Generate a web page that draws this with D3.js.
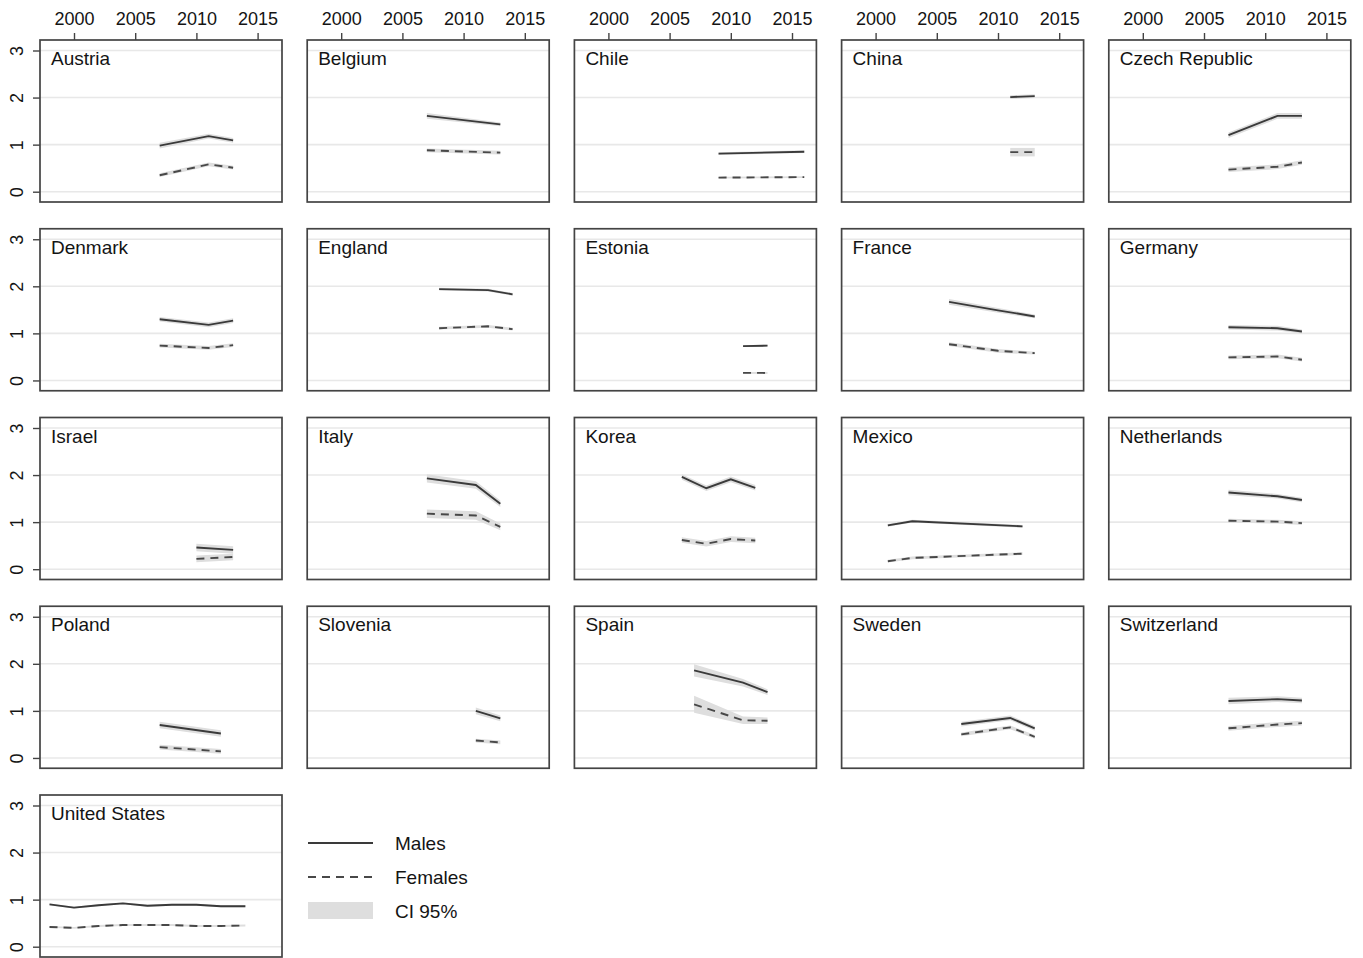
<!DOCTYPE html>
<html>
<head>
<meta charset="utf-8">
<script src="https://cdn.jsdelivr.net/npm/d3@7"></script>
<style>
  body { margin: 0; background: #fff; }
  svg { display: block; }
  text { font-family: "Liberation Sans", Arial, sans-serif; fill: #141414; }
</style>
</head>
<body>
<svg id="chart" width="1363" height="958"></svg>
<script>
// Countries, one small multiple each
const countries = ["Austria", "Belgium", "Chile", "China", "Czech Republic",
  "Denmark", "England", "Estonia", "France", "Germany",
  "Israel", "Italy", "Korea", "Mexico", "Netherlands",
  "Poland", "Slovenia", "Spain", "Sweden", "Switzerland",
  "United States"];

// Survey years per country
const years = [
  [2007, 2011, 2013], [2007, 2013], [2009, 2016], [2011, 2013], [2007, 2011, 2013],
  [2007, 2011, 2013], [2008, 2012, 2014], [2011, 2013], [2006, 2010, 2013], [2007, 2011, 2013],
  [2010, 2013], [2007, 2011, 2013], [2006, 2008, 2010, 2012], [2001, 2003, 2012], [2007, 2011, 2013],
  [2007, 2012], [2011, 2013], [2007, 2011, 2013], [2007, 2011, 2013], [2007, 2011, 2013],
  [1998, 2000, 2002, 2004, 2006, 2008, 2010, 2012, 2014]
];

// Estimates, males
const males = [
  [0.98, 1.18, 1.09], [1.61, 1.43], [0.81, 0.85], [2.01, 2.03], [1.20, 1.61, 1.61],
  [1.30, 1.18, 1.27], [1.94, 1.92, 1.83], [0.73, 0.74], [1.67, 1.49, 1.36], [1.13, 1.11, 1.04],
  [0.46, 0.41], [1.93, 1.79, 1.39], [1.96, 1.72, 1.91, 1.73], [0.93, 1.02, 0.91], [1.63, 1.55, 1.47],
  [0.70, 0.52], [1.00, 0.84], [1.86, 1.60, 1.40], [0.72, 0.85, 0.63], [1.21, 1.25, 1.22],
  [0.90, 0.83, 0.88, 0.92, 0.87, 0.89, 0.89, 0.86, 0.86]
];

// Estimates, females
const females = [
  [0.35, 0.58, 0.51], [0.88, 0.83], [0.30, 0.31], [0.84, 0.84], [0.47, 0.53, 0.62],
  [0.74, 0.69, 0.75], [1.11, 1.15, 1.09], [0.16, 0.16], [0.77, 0.63, 0.58], [0.49, 0.51, 0.44],
  [0.22, 0.26], [1.18, 1.14, 0.90], [0.62, 0.54, 0.64, 0.61], [0.17, 0.24, 0.33], [1.03, 1.01, 0.98],
  [0.23, 0.14], [0.37, 0.33], [1.14, 0.80, 0.79], [0.50, 0.65, 0.45], [0.63, 0.71, 0.74],
  [0.42, 0.40, 0.44, 0.46, 0.46, 0.46, 0.44, 0.44, 0.45]
];

// Half-width of the 95% confidence interval, males
const malesCI = [
  [0.06, 0.05, 0.05], [0.06, 0.04], [0.03, 0.03], [0.04, 0.04], [0.06, 0.06, 0.06],
  [0.05, 0.05, 0.05], [0.03, 0.03, 0.03], [0.02, 0.02], [0.06, 0.05, 0.04], [0.05, 0.05, 0.04],
  [0.08, 0.08], [0.09, 0.08, 0.07], [0.06, 0.06, 0.06, 0.06], [0.03, 0.03, 0.03], [0.06, 0.05, 0.05],
  [0.07, 0.07], [0.07, 0.06], [0.13, 0.08, 0.06], [0.05, 0.05, 0.05], [0.07, 0.06, 0.06],
  [0.02, 0.02, 0.02, 0.02, 0.02, 0.02, 0.02, 0.02, 0.02]
];

// Half-width of the 95% confidence interval, females
const femalesCI = [
  [0.04, 0.04, 0.04], [0.04, 0.04], [0.02, 0.02], [0.09, 0.09], [0.05, 0.05, 0.05],
  [0.04, 0.04, 0.04], [0.03, 0.03, 0.03], [0.02, 0.02], [0.04, 0.04, 0.03], [0.04, 0.04, 0.04],
  [0.07, 0.07], [0.09, 0.09, 0.07], [0.06, 0.06, 0.06, 0.06], [0.03, 0.03, 0.03], [0.04, 0.04, 0.04],
  [0.05, 0.05], [0.04, 0.04], [0.18, 0.08, 0.07], [0.04, 0.04, 0.04], [0.05, 0.05, 0.05],
  [0.02, 0.02, 0.02, 0.02, 0.02, 0.02, 0.02, 0.02, 0.02]
];

const xTicks = [2000, 2005, 2010, 2015];
const yTicks = [0, 1, 2, 3];
const legendLabels = ["Males", "Females", "CI 95%"];

// Layout of the grid of panels
const nCols = 5;
const panelW = 242, panelH = 162;
const left0 = 40, top0 = 40;
const colStep = 267.2, rowStep = 188.75;

const x = d3.scaleLinear().domain([2000, 2015]).range([34, 217.6]);
const y = d3.scaleLinear().domain([0, 3]).range([151.7, 10.5]);

const gridColor = "#e8e8e8";
const frameColor = "#444";
const lineColor = "#3a3a3a";
const bandColor = "#dedede";

const svg = d3.select("#chart");

const band = d3.area()
  .x(d => x(d.year))
  .y0(d => y(d.v - d.ci))
  .y1(d => y(d.v + d.ci));
const line = d3.line()
  .x(d => x(d.year))
  .y(d => y(d.v));

countries.forEach((name, i) => {
  const col = i % nCols, row = Math.floor(i / nCols);
  const g = svg.append("g")
    .attr("transform", `translate(${left0 + col * colStep},${top0 + row * rowStep})`);

  // horizontal reference lines
  g.selectAll("line.grid").data(yTicks).join("line")
    .attr("class", "grid")
    .attr("x1", 0).attr("x2", panelW)
    .attr("y1", d => y(d)).attr("y2", d => y(d))
    .attr("stroke", gridColor).attr("stroke-width", 1.6);

  const m = years[i].map((yr, k) => ({ year: yr, v: males[i][k], ci: malesCI[i][k] }));
  const f = years[i].map((yr, k) => ({ year: yr, v: females[i][k], ci: femalesCI[i][k] }));

  // confidence bands
  [m, f].forEach(s => {
    g.append("path").datum(s).attr("d", band)
      .attr("fill", bandColor).attr("stroke", "none");
  });

  // estimates
  g.append("path").datum(m).attr("d", line)
    .attr("fill", "none").attr("stroke", lineColor).attr("stroke-width", 1.9);
  g.append("path").datum(f).attr("d", line)
    .attr("fill", "none").attr("stroke", "#484848").attr("stroke-width", 1.9)
    .attr("stroke-dasharray", "8,6");

  // panel frame
  g.append("rect")
    .attr("x", 0).attr("y", 0).attr("width", panelW).attr("height", panelH)
    .attr("fill", "none").attr("stroke", frameColor).attr("stroke-width", 1.7);

  // panel title
  g.append("text")
    .attr("x", 11).attr("y", 25)
    .attr("font-size", 19)
    .text(name);

  // year axis along the top row
  if (row === 0) {
    const ax = g.append("g").call(
      d3.axisTop(x).tickValues(xTicks).tickSize(7).tickPadding(8).tickFormat(d3.format("d"))
    );
    ax.select(".domain").remove();
    ax.selectAll(".tick line").attr("stroke", frameColor).attr("stroke-width", 1.4);
    ax.selectAll(".tick text")
      .attr("font-size", 18).attr("font-family", "Liberation Sans, Arial, sans-serif")
      .attr("fill", "#141414");
  }

  // value axis on the first column
  if (col === 0) {
    const ay = g.append("g").call(
      d3.axisLeft(y).tickValues(yTicks).tickSize(7).tickFormat(d3.format("d"))
    );
    ay.select(".domain").remove();
    ay.selectAll(".tick line").attr("stroke", frameColor).attr("stroke-width", 1.4);
    ay.selectAll(".tick text")
      .attr("transform", "rotate(-90)")
      .attr("x", 0).attr("y", -17).attr("dy", 0)
      .attr("text-anchor", "middle")
      .attr("font-size", 18).attr("font-family", "Liberation Sans, Arial, sans-serif")
      .attr("fill", "#141414");
  }
});

// legend
const lg = svg.append("g").attr("transform", "translate(308,843)");
lg.append("line").attr("x1", 0).attr("x2", 65).attr("y1", 0).attr("y2", 0)
  .attr("stroke", lineColor).attr("stroke-width", 1.9);
lg.append("line").attr("x1", 0).attr("x2", 65).attr("y1", 34).attr("y2", 34)
  .attr("stroke", "#484848").attr("stroke-width", 1.9).attr("stroke-dasharray", "8,6");
lg.append("rect").attr("x", 0).attr("y", 59).attr("width", 65).attr("height", 17)
  .attr("fill", bandColor);
lg.selectAll("text.lab").data(legendLabels).join("text")
  .attr("class", "lab")
  .attr("x", 87).attr("y", (d, k) => 7 + k * 34)
  .attr("font-size", 19)
  .text(d => d);
</script>
</body>
</html>
